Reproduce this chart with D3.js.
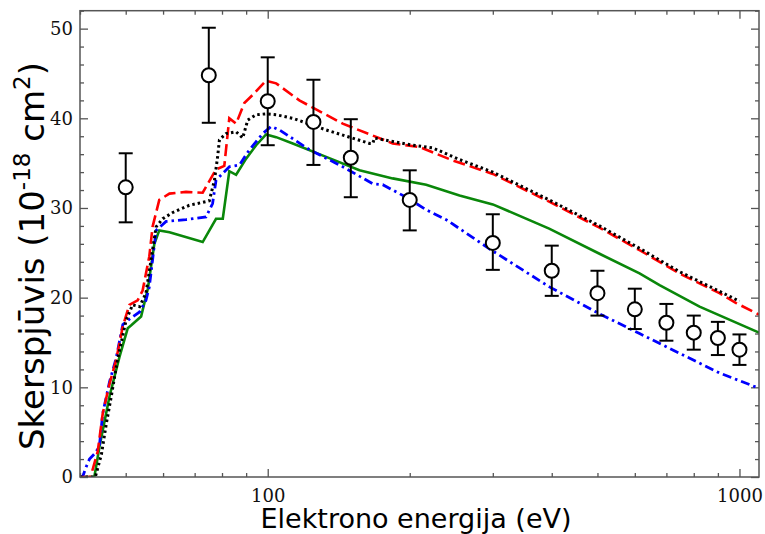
<!DOCTYPE html>
<html>
<head>
<meta charset="utf-8">
<script src="https://cdn.jsdelivr.net/npm/d3@7"></script>
<style>
  html, body { margin: 0; padding: 0; background: #fff; }
</style>
</head>
<body>
<svg id="chart"></svg>
<script>
// eksperimentālie punkti
const energyExp = [50, 75, 100, 125, 150, 200, 300, 400, 500, 600, 700, 800, 900, 1000];
const sigmaExp = [32.3, 44.8, 41.9, 39.6, 35.6, 30.9, 26.1, 23.0, 20.5, 18.7, 17.2, 16.1, 15.5, 14.2];
const errLow = [28.4, 39.5, 37.0, 34.8, 31.2, 27.5, 23.1, 20.2, 18.0, 16.5, 15.2, 14.2, 13.6, 12.5];
const errHigh = [36.1, 50.1, 46.8, 44.3, 39.9, 34.2, 29.3, 25.8, 23.0, 21.0, 19.3, 18.0, 17.3, 15.9];

// teorētiskās līknes [E, sigma]
const redCurve = [[40, 0], [42.1, 0], [43.6, 2.8], [44.7, 7.1], [46.2, 10.4], [47.7, 13.0], [49.3, 16.8],
  [50.9, 19.2], [53.0, 19.7], [54.3, 20.8], [56.1, 24.6], [57.0, 27.9], [58.9, 30.9], [61.9, 31.6],
  [67.1, 31.8], [72.8, 31.7], [75.2, 33.0], [77.7, 34.3], [80.9, 34.7], [82.9, 40.0], [85.7, 39.4],
  [89.2, 41.7], [92.9, 42.6], [99.2, 44.2], [104.2, 43.9], [116.7, 42.0], [144.2, 39.4], [184, 37.2],
  [210, 36.8], [246.7, 35.3], [300, 33.8], [395, 30.7], [505, 27.8], [614, 25.3], [746, 22.7],
  [907, 20.5], [984, 19.4], [1100, 18.1]];

const blackCurve = [[40, 0], [43.1, 0], [44.4, 2.5], [45.5, 6.0], [46.6, 9.0], [48.0, 13.0], [50.1, 17.5],
  [51.7, 19.2], [53.5, 19.0], [55.2, 20.5], [56.5, 24.0], [58.0, 27.9], [59.9, 28.8], [62.9, 29.5],
  [68.2, 30.3], [75.2, 30.8], [77.1, 33.1], [78.3, 35.7], [79.0, 37.6], [81.6, 38.3], [85.7, 38.5],
  [88.5, 37.8], [90.7, 39.8], [94.5, 40.4], [99.2, 40.5], [104.2, 40.4], [113, 40.0], [133, 38.7],
  [164.3, 37.2], [167, 37.2], [168.4, 37.8], [203, 37.0], [223.8, 36.7], [255, 35.4], [300, 34.0],
  [395, 30.9], [505, 28.0], [614, 25.5], [746, 22.9], [907, 20.7], [1000, 19.6]];

const blueCurve = [[40, 0], [40.5, 0], [41.2, 1.1], [41.9, 2.0], [43.3, 2.8], [44.0, 3.6], [44.7, 7.1],
  [46.2, 10.6], [47.7, 13.2], [49.3, 17.0], [50.9, 17.6], [53.5, 18.4], [55.2, 19.7], [56.1, 21.2],
  [58.0, 27.5], [60.9, 28.5], [67.1, 28.7], [74.0, 29.0], [76.4, 30.5], [77.7, 33.1], [82.9, 34.6],
  [87.1, 34.8], [91.5, 36.5], [97.6, 38.3], [101.7, 39.1], [105.9, 38.7], [122.6, 36.5], [144.2, 34.6],
  [167, 32.7], [175.3, 32.6], [184, 32.0], [196.6, 31.2], [216.7, 29.8], [238.9, 28.7], [255, 27.7],
  [300, 25.2], [395.5, 21.2], [505, 18.2], [614, 16.0], [746, 13.8], [907, 11.6], [1100, 9.9]];

const greenCurve = [[40, 0], [42.9, 0], [44.0, 3.4], [46.2, 9.0], [48.5, 13.4], [50.5, 16.6], [51.3, 16.9],
  [53.9, 17.9], [55.7, 21.0], [57.5, 26.0], [58.9, 27.5], [61.9, 27.3], [72.8, 26.2], [77.7, 28.8],
  [80.3, 28.8], [82.9, 34.1], [85.7, 33.7], [90.0, 35.5], [94.5, 37.0], [99.2, 38.2], [104.2, 37.9],
  [113, 37.2], [133, 35.7], [156.5, 34.2], [184, 33.3], [216.7, 32.6], [255, 31.4], [300, 30.4],
  [395, 27.7], [505, 24.9], [614, 22.7], [677, 21.4], [823, 19.0], [1100, 16.1]];

// ašu iedaļas
const xMajor = [100, 1000];
const xMinor = [40, 50, 60, 70, 80, 90, 200, 300, 400, 500, 600, 700, 800, 900];
const yMajor = [0, 10, 20, 30, 40, 50];
const yMinor = [2, 4, 6, 8, 12, 14, 16, 18, 22, 24, 26, 28, 32, 34, 36, 38, 42, 44, 46, 48, 52];

const W = 765, H = 534;
const margin = { top: 10.7, right: 6, bottom: 57, left: 80 };
const width = W - margin.left - margin.right;
const height = H - margin.top - margin.bottom;

const root = d3.select('#chart').attr('width', W).attr('height', H);
const svg = root.append('g').attr('transform', `translate(${margin.left},${margin.top})`);

const x = d3.scaleLog().domain([40, 1100]).range([0, width]);
const y = d3.scaleLinear().domain([0, 52]).range([height, 0]);

svg.append('clipPath').attr('id', 'clip')
  .append('rect').attr('width', width).attr('height', height);

const axisColor = '#555';
const tickFont = 'DejaVu Serif, serif';

function styleAxis(g) {
  g.select('.domain').remove();
  g.selectAll('line').attr('stroke', axisColor).attr('stroke-width', 1.3);
  g.selectAll('text').style('font-family', tickFont).style('font-size', '18px').attr('fill', '#111');
}

// apakšējā ass
svg.append('g').attr('transform', `translate(0,${height})`)
  .call(d3.axisBottom(x).tickValues(xMajor).tickFormat(d3.format('d')).tickSizeInner(-8).tickSizeOuter(0).tickPadding(12))
  .call(styleAxis);
svg.append('g').attr('transform', `translate(0,${height})`)
  .call(d3.axisBottom(x).tickValues(xMinor).tickFormat('').tickSizeInner(-4).tickSizeOuter(0))
  .call(styleAxis);
// augšējā ass
svg.append('g')
  .call(d3.axisTop(x).tickValues(xMajor).tickFormat('').tickSizeInner(-8).tickSizeOuter(0))
  .call(styleAxis);
svg.append('g')
  .call(d3.axisTop(x).tickValues(xMinor).tickFormat('').tickSizeInner(-4).tickSizeOuter(0))
  .call(styleAxis);
// kreisā ass
svg.append('g')
  .call(d3.axisLeft(y).tickValues(yMajor).tickSizeInner(-8).tickSizeOuter(0).tickPadding(7))
  .call(styleAxis);
svg.append('g')
  .call(d3.axisLeft(y).tickValues(yMinor).tickFormat('').tickSizeInner(-4).tickSizeOuter(0))
  .call(styleAxis);
// labā ass
svg.append('g').attr('transform', `translate(${width},0)`)
  .call(d3.axisRight(y).tickValues(yMajor).tickFormat('').tickSizeInner(-8).tickSizeOuter(0))
  .call(styleAxis);
svg.append('g').attr('transform', `translate(${width},0)`)
  .call(d3.axisRight(y).tickValues(yMinor).tickFormat('').tickSizeInner(-4).tickSizeOuter(0))
  .call(styleAxis);

// līknes
const line = d3.line().x((d) => x(d[0])).y((d) => y(d[1]));
const curves = [
  { data: greenCurve, color: '#0a870a', dash: null, w: 2.6 },
  { data: blueCurve, color: '#0000ff', dash: '9,4,2.5,4', w: 2.8 },
  { data: redCurve, color: '#ff0000', dash: '12,5', w: 2.6 },
  { data: blackCurve, color: '#000', dash: '2.5,3', w: 3 }
];
const lg = svg.append('g').attr('clip-path', 'url(#clip)');
curves.forEach((c) => {
  lg.append('path')
    .datum(c.data)
    .attr('fill', 'none')
    .attr('stroke', c.color)
    .attr('stroke-width', c.w)
    .attr('stroke-dasharray', c.dash)
    .attr('d', line);
});

// kļūdu joslas
const pts = energyExp.map((e, i) => ({ e, s: sigmaExp[i], lo: errLow[i], hi: errHigh[i] }));
const eb = svg.append('g').attr('stroke', '#000').attr('stroke-width', 2);
eb.selectAll('.bar').data(pts).enter().append('line')
  .attr('x1', (d) => x(d.e)).attr('x2', (d) => x(d.e))
  .attr('y1', (d) => y(d.lo)).attr('y2', (d) => y(d.hi));
eb.selectAll('.capT').data(pts).enter().append('line')
  .attr('x1', (d) => x(d.e) - 7).attr('x2', (d) => x(d.e) + 7)
  .attr('y1', (d) => y(d.hi)).attr('y2', (d) => y(d.hi));
eb.selectAll('.capB').data(pts).enter().append('line')
  .attr('x1', (d) => x(d.e) - 7).attr('x2', (d) => x(d.e) + 7)
  .attr('y1', (d) => y(d.lo)).attr('y2', (d) => y(d.lo));
svg.append('g').selectAll('circle').data(pts).enter().append('circle')
  .attr('cx', (d) => x(d.e)).attr('cy', (d) => y(d.s)).attr('r', 7)
  .attr('fill', '#fff').attr('stroke', '#000').attr('stroke-width', 2);

// rāmis
svg.append('rect').attr('width', width).attr('height', height)
  .attr('fill', 'none').attr('stroke', axisColor).attr('stroke-width', 1.5);

// asu nosaukumi
root.append('text')
  .attr('x', 416).attr('y', 528)
  .attr('text-anchor', 'middle')
  .style('font-family', 'DejaVu Sans, sans-serif')
  .style('font-size', '27px')
  .text('Elektrono energija (eV)');

const yl = root.append('text')
  .attr('transform', 'translate(44,256) rotate(-90)')
  .attr('text-anchor', 'middle')
  .style('font-family', 'DejaVu Sans, sans-serif')
  .style('font-size', '34px');
yl.append('tspan').text('Skerspjūvis (10');
yl.append('tspan').attr('dy', -14).style('font-size', '23px').text('-18');
yl.append('tspan').attr('dy', 14).text(' cm');
yl.append('tspan').attr('dy', -14).style('font-size', '23px').text('2');
yl.append('tspan').attr('dy', 14).text(')');
</script>
</body>
</html>
